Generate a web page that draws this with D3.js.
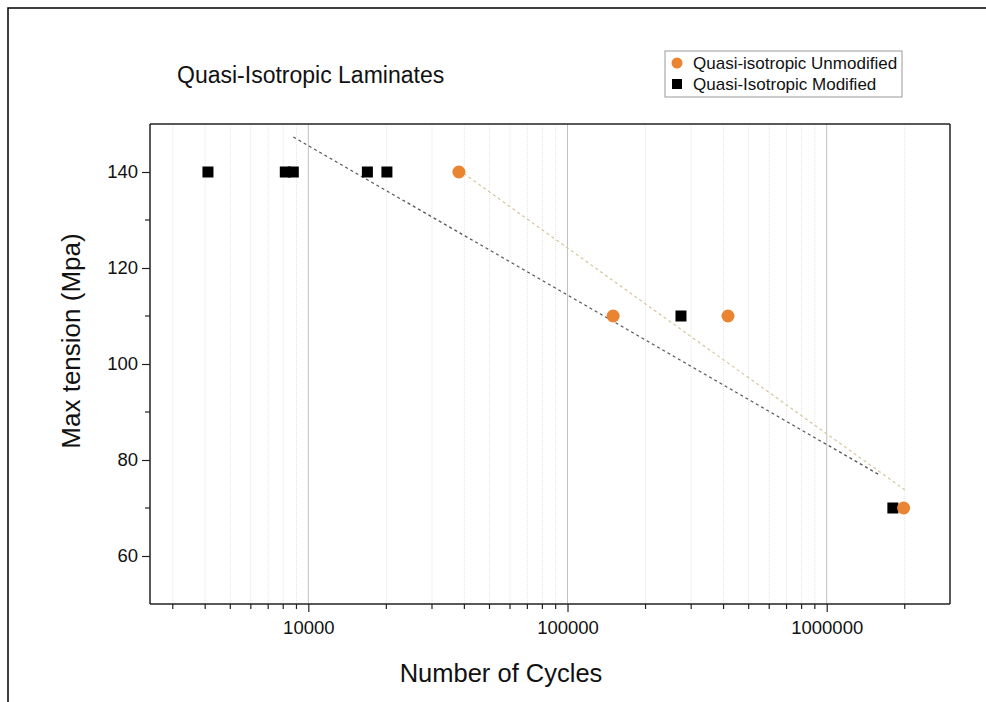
<!DOCTYPE html>
<html><head><meta charset="utf-8">
<script src="https://cdn.jsdelivr.net/npm/d3@7"></script>
<style>body{margin:0;background:#fff;} text{font-family:"Liberation Sans",Arial,sans-serif;}</style>
</head><body><svg id="c" width="986" height="702"></svg>
<script>
const unmodCycles = [38100, 150000, 416000, 1980000];
const unmodStress = [140, 110, 110, 70];
const modCycles = [4100, 8150, 8750, 16900, 20100, 274000, 1800000];
const modStress = [140, 140, 140, 140, 140, 110, 70];
const unmodTrendX = [38100, 2000000];
const unmodTrendY = [140.4, 73.8];
const modTrendX = [8750, 1585000];
const modTrendY = [147.3, 77.0];
const xMajorTicks = [10000, 100000, 1000000];
const xMinorTicks = [3000,4000,5000,6000,7000,8000,9000,20000,30000,40000,50000,60000,70000,80000,90000,200000,300000,400000,500000,600000,700000,800000,900000,2000000];
const yMajorTicks = [60, 80, 100, 120, 140];
const yMinorTicks = [70, 90, 110, 130];

const svg = d3.select("#c");
const L=150,R=950,T=124,B=604;
const x = d3.scaleLog().domain([2450, 2990000]).range([L,R]);
const y = d3.scaleLinear().domain([50,150]).range([B,T]);

// outer frame
svg.append("rect").attr("x",8).attr("y",8).attr("width",1200).attr("height",1200)
  .attr("fill","none").attr("stroke","#000").attr("stroke-width",1.5);

// grid
svg.append("g").selectAll("line").data(xMinorTicks).join("line")
  .attr("x1",d=>x(d)).attr("x2",d=>x(d)).attr("y1",T).attr("y2",B)
  .attr("stroke","#e4e4e4").attr("stroke-width",1).attr("stroke-dasharray","1,1");
svg.append("g").selectAll("line").data(xMajorTicks).join("line")
  .attr("x1",d=>x(d)).attr("x2",d=>x(d)).attr("y1",T).attr("y2",B)
  .attr("stroke","#c0c0c0").attr("stroke-width",1);

// frame top/right
svg.append("line").attr("x1",L).attr("x2",R).attr("y1",T).attr("y2",T).attr("stroke","#222").attr("stroke-width",1.5);
svg.append("line").attr("x1",R).attr("x2",R).attr("y1",T).attr("y2",B).attr("stroke","#222").attr("stroke-width",1.5);

// axes
const xAxis = svg.append("g").attr("transform",`translate(0,${B})`)
  .call(d3.axisBottom(x).tickValues(xMajorTicks).tickFormat(d3.format("d")).tickSize(8).tickPadding(9));
xAxis.append("g").selectAll("line").data(xMinorTicks).join("line")
  .attr("x1",d=>x(d)).attr("x2",d=>x(d)).attr("y1",0).attr("y2",5).attr("stroke","#222").attr("stroke-width",1.2);
const yAxis = svg.append("g").attr("transform",`translate(${L},0)`)
  .call(d3.axisLeft(y).tickValues(yMajorTicks).tickSize(8).tickPadding(4));
yAxis.append("g").selectAll("line").data(yMinorTicks).join("line")
  .attr("x1",0).attr("x2",-5).attr("y1",d=>y(d)).attr("y2",d=>y(d)).attr("stroke","#222").attr("stroke-width",1.2);
[xAxis,yAxis].forEach(a=>{
  a.select(".domain").attr("stroke","#222").attr("stroke-width",1.5);
  a.selectAll(".tick line").attr("stroke","#222").attr("stroke-width",1.2);
  a.selectAll(".tick text").attr("font-size",18.5).attr("fill","#111").attr("font-family","Liberation Sans, Arial, sans-serif");
});
xAxis.select(".domain").attr("d",`M${L},0H${R}`);
yAxis.select(".domain").attr("d",`M0,${B}V${T}`);

// trend lines
const line = d3.line().x(d=>x(d[0])).y(d=>y(d[1]));
svg.append("path").datum(modTrendX.map((v,i)=>[v,modTrendY[i]]))
  .attr("d",line).attr("fill","none").attr("stroke","#555").attr("stroke-width",1.2).attr("stroke-dasharray","3,3");
svg.append("path").datum(unmodTrendX.map((v,i)=>[v,unmodTrendY[i]]))
  .attr("d",line).attr("fill","none").attr("stroke","#d6c69c").attr("stroke-width",1.2).attr("stroke-dasharray","3,3");

// points
svg.append("g").selectAll("rect").data(modCycles.map((v,i)=>[v,modStress[i]])).join("rect")
  .attr("x",d=>x(d[0])-5.5).attr("y",d=>y(d[1])-5.5).attr("width",11).attr("height",11).attr("fill","#000");
svg.append("g").selectAll("circle").data(unmodCycles.map((v,i)=>[v,unmodStress[i]])).join("circle")
  .attr("cx",d=>x(d[0])).attr("cy",d=>y(d[1])).attr("r",6.5).attr("fill","#ea8430");

// titles
svg.append("text").attr("x",177).attr("y",83).attr("font-size",23).attr("fill","#111").text("Quasi-Isotropic Laminates");
svg.append("text").attr("x",501).attr("y",682).attr("text-anchor","middle").attr("font-size",25.5).attr("fill","#111").text("Number of Cycles");
svg.append("text").attr("transform","translate(80,341) rotate(-90)").attr("text-anchor","middle").attr("font-size",26).attr("fill","#111").text("Max tension (Mpa)");

// legend
const lg = svg.append("g");
lg.append("rect").attr("x",665).attr("y",51).attr("width",237).attr("height",46).attr("fill","#fff").attr("stroke","#999").attr("stroke-width",1);
lg.append("circle").attr("cx",677).attr("cy",63).attr("r",5.5).attr("fill","#ea8430");
lg.append("rect").attr("x",672).attr("y",79).attr("width",10).attr("height",10).attr("fill","#000");
lg.append("text").attr("x",693).attr("y",69).attr("font-size",17).attr("fill","#111").text("Quasi-isotropic Unmodified");
lg.append("text").attr("x",693).attr("y",90).attr("font-size",17).attr("fill","#111").text("Quasi-Isotropic Modified");
</script></body></html>
